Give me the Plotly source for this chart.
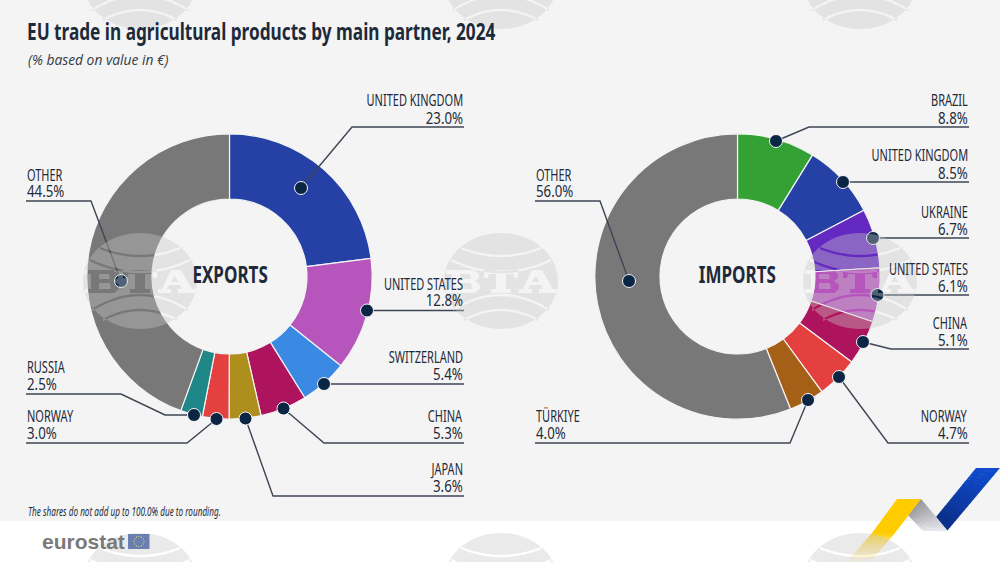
"""EU trade in agricultural products by main partner, 2024 - two donuts with callouts."""

import numpy as np
import plotly.graph_objects as go

W, H = 1000, 562

# data
export_partners = ["UNITED KINGDOM", "UNITED STATES", "SWITZERLAND", "CHINA", "JAPAN", "NORWAY", "RUSSIA", "OTHER"]
export_shares = [23.0, 12.8, 5.4, 5.3, 3.6, 3.0, 2.5, 44.5]
import_partners = ["BRAZIL", "UNITED KINGDOM", "UKRAINE", "UNITED STATES", "CHINA", "NORWAY", "TÜRKIYE", "OTHER"]
import_shares = [8.8, 8.5, 6.7, 6.1, 5.1, 4.7, 4.0, 56.0]

export_colors = ["#2541A5", "#B656BD", "#3A8AE4", "#AE145E", "#AE8F1E", "#E4403F", "#1F8787", "#787878"]
import_colors = ["#33A133", "#2541A5", "#6429C1", "#B656BD", "#AE145E", "#E4403F", "#A65F17", "#787878"]

# callout layout in pixels: side, y of first text line, leader polyline starting at the dot
export_callouts = [
    ("r", 100, [(301, 188), (352, 127), (464, 127)]),
    ("r", 283, [(367, 310.5), (464, 310.5)]),
    ("r", 356, [(324, 384), (464, 384)]),
    ("r", 415, [(283.5, 408.5), (324, 443), (464, 443)]),
    ("r", 468, [(245.5, 418.5), (273, 496), (464, 496)]),
    ("l", 415, [(216.5, 419), (187, 443), (26, 443)]),
    ("l", 366, [(194, 415), (165, 415), (121, 394), (26, 394)]),
    ("l", 174, [(121, 281), (91, 201), (26, 201)]),
]
import_callouts = [
    ("r", 100, [(776, 141), (809, 127), (969, 127)]),
    ("r", 155, [(843, 182), (969, 182)]),
    ("r", 211, [(873, 238), (969, 238)]),
    ("r", 268, [(877.5, 295), (969, 295)]),
    ("r", 322, [(863, 342), (891, 349), (969, 349)]),
    ("r", 415, [(839, 377), (888, 443), (969, 443)]),
    ("l", 415, [(808, 400), (790, 443), (535, 443)]),
    ("l", 174, [(629, 281), (600, 201), (535, 201)]),
]

# no condensed face is installed, so text in this family gets narrowed after the plot is drawn
NARROW = "Noto Sans"
DARK = "#1E2A3A"
LINE = "#3D4654"
DOT = "#0B2545"

CONDENSE = """
document.body.style.margin = '0';
var squeeze = {'23px': 0.748, '24px': 0.71, '16.4px': 0.67, '12px': 0.68};
document.querySelectorAll('.annotation-text').forEach(function (t) {
    if (t.style.fontFamily.indexOf('Noto Sans') < 0) return;
    var k = /^[0-9.]+%$/.test(t.textContent) ? 0.81 : squeeze[t.style.fontSize];
    t.setAttribute('textLength', t.getComputedTextLength() * k);
    t.setAttribute('lengthAdjust', 'spacingAndGlyphs');
});
"""


def px(x, y):
    return x / W, 1 - y / H


def path_of(points, close=False):
    d = ""
    for i, (x, y) in enumerate(points):
        u, v = px(x, y)
        d += f"{'M' if i == 0 else 'L'}{u:.5f},{v:.5f}"
    return d + ("Z" if close else "")


def poly(points, color, opacity=1):
    return dict(type="path", xref="paper", yref="paper", path=path_of(points, True),
                fillcolor=color, opacity=opacity, line=dict(width=0))


def text(x, y, s, size=16.4, anchor="left", family=NARROW, color=DARK, weight=400, style="normal"):
    u, v = px(x, y)
    return dict(x=u, y=v, xref="paper", yref="paper", text=s, showarrow=False, xanchor=anchor, align=anchor,
                yanchor="middle", borderpad=0,
                font=dict(family=family, size=size, color=color, weight=weight, style=style))


def donut(labels, values, colors, cx, cy=276.5, r=142.7):
    return go.Pie(
        labels=labels, values=values, sort=False, direction="clockwise", rotation=0, hole=0.543,
        textinfo="none", showlegend=False,
        marker=dict(colors=colors, line=dict(color="#F4F4F4", width=1.2)),
        domain=dict(x=[(cx - r) / W, (cx + r) / W], y=[1 - (cy + r) / H, 1 - (cy - r) / H]),
    )


def watermark(cx, cy):
    # one compound path, the arcs and letters are holes through evenodd
    rx, ry = 57, 48
    t = np.linspace(0, 2 * np.pi, 60)
    d = path_of(list(zip(cx + rx * np.cos(t), cy + ry * np.sin(t))), True)

    def arc(half, y_end, y_mid, thick=1.2):
        xs = np.linspace(-half, half, 24)
        ys = y_mid + (y_end - y_mid) * (xs / half) ** 2
        top = list(zip(cx + xs, cy + ys - thick))
        bot = list(zip(cx + xs[::-1], cy + ys[::-1] + thick))
        return path_of(top + bot, True)

    for half, y_end, y_mid in [(40, -33, -25), (50, -21, -9), (48, 29, 14), (37, 39, 29)]:
        d += arc(half, y_end, y_mid)

    def rel(points):
        return path_of([(cx + x, cy + y) for x, y in points], True)

    # B with its two counters
    d += rel([(-55, -11), (-27, -11), (-22, -7), (-22, -3), (-26, 0), (-21, 4), (-21, 8), (-26, 12), (-55, 12),
              (-55, 8), (-49, 8), (-49, -7), (-55, -7)])
    d += rel([(-41, -7), (-31, -7), (-30, -2), (-41, -2)])
    d += rel([(-41, 2), (-30, 2), (-29, 8), (-41, 8)])
    # T
    d += rel([(-17, -11), (17, -11), (17, -3), (13, -3), (12, -7), (5, -7), (5, 8), (10, 8), (10, 12), (-10, 12),
              (-10, 8), (-5, 8), (-5, -7), (-12, -7), (-13, -3), (-17, -3)])
    # A with its counter
    d += rel([(31, -11), (41, -11), (52, 8), (56, 8), (56, 12), (38, 12), (38, 8), (42, 8), (40, 4), (29, 4), (27, 8),
              (31, 8), (31, 12), (18, 12), (18, 8), (22, 8)])
    d += rel([(35, -5), (31, 1), (38, 1)])
    return dict(type="path", xref="paper", yref="paper", path=d, fillcolor="rgba(200,200,200,0.38)",
                fillrule="evenodd", line=dict(width=0))


def ribbon(p0, p1, p2, p3, c0, c1, a0=1.0, a1=1.0, n=18):
    # band from edge p0-p1 to edge p3-p2, cut into strips to fake the gradient
    p0, p1, p2, p3 = map(np.array, (p0, p1, p2, p3))
    c0, c1 = np.array(c0), np.array(c1)
    out = []
    for i in range(n):
        s, e = i / n, min((i + 1.15) / n, 1)
        m = (s + e) / 2
        col = c0 + (c1 - c0) * m
        out.append(poly([p0 + (p3 - p0) * s, p1 + (p2 - p1) * s, p1 + (p2 - p1) * e, p0 + (p3 - p0) * e],
                        f"rgb({col[0]:.0f},{col[1]:.0f},{col[2]:.0f})", a0 + (a1 - a0) * m))
    return out


fig = go.Figure()
fig.add_trace(donut(export_partners, export_shares, export_colors, 229.5))
fig.add_trace(donut(import_partners, import_shares, import_colors, 737.5))

# footer band under the pies
shapes = [poly([(0, 521), (W, 521), (W, H), (0, H)], "white")]
shapes[0]["layer"] = "below"
annotations = [
    text(26, 31, "EU trade in agricultural products by main partner, 2024", size=23, weight=700),
    text(27, 59, "(% based on value in €)", size=13.8, family="Open Sans", color="#333B47", style="italic"),
    text(27, 511, "The shares do not add up to 100.0% due to rounding.", size=12, style="italic"),
    text(229.5, 273, "EXPORTS", size=24, anchor="center", weight=700),
    text(737.5, 273, "IMPORTS", size=24, anchor="center", weight=700),
]

for partners, shares, callouts in [(export_partners, export_shares, export_callouts),
                                   (import_partners, import_shares, import_callouts)]:
    for name, share, (side, y, points) in zip(partners, shares, callouts):
        x = points[-1][0]
        anchor = "right" if side == "r" else "left"
        annotations.append(text(x, y, name, anchor=anchor))
        annotations.append(text(x, y + 17, f"{share:.1f}%", anchor=anchor))
        shapes.append(dict(type="path", xref="paper", yref="paper", path=path_of(points),
                           line=dict(color=LINE, width=1.4)))
        u, v = px(*points[0])
        shapes.append(dict(type="circle", xref="paper", yref="paper", x0=u - 6.5 / W, x1=u + 6.5 / W,
                           y0=v - 6.5 / H, y1=v + 6.5 / H, fillcolor=DOT, line=dict(color="#F4F4F4", width=1)))

# eurostat logo
annotations.append(text(41, 541, "eurostat", size=21, family="Liberation Sans", color="#7A7A7A", weight=700))
shapes.append(poly([(128, 534), (149.5, 534), (149.5, 549), (128, 549)], "#2F51A3"))
for a in np.arange(0, 2 * np.pi, np.pi / 6):
    x, y = 139 + 5 * np.cos(a), 541.5 + 5 * np.sin(a)
    shapes.append(poly([(x - 0.6, y - 0.6), (x + 0.6, y - 0.6), (x + 0.6, y + 0.6), (x - 0.6, y + 0.6)], "#F2D43A"))

# ribbon mark bottom right
shapes += ribbon((976, 468), (1000, 468), (947, 531), (936, 517), (16, 76, 210), (10, 46, 135))
shapes += ribbon((921, 499), (908, 515), (923, 531), (948, 531), (150, 150, 155), (232, 232, 238))
shapes += ribbon((897, 499), (921, 499), (895, 533), (872, 533), (255, 204, 0), (255, 204, 0), n=1)
shapes += ribbon((872, 533), (895, 533), (870, 562), (847, 562), (255, 204, 0), (255, 225, 130), 1.0, 0.1, n=14)

# agency watermark sits over everything but the text
for cy in (-19, 281, 581):
    for cx in (140, 501, 860):
        shapes.append(watermark(cx, cy))

fig.update_layout(
    width=W, height=H, autosize=False,
    margin=dict(l=0, r=0, t=0, b=0, pad=0),
    paper_bgcolor="#F4F4F4", plot_bgcolor="#F4F4F4",
    shapes=shapes, annotations=annotations,
)
fig.write_html("out.html", config=dict(displayModeBar=False), post_script=CONDENSE)
